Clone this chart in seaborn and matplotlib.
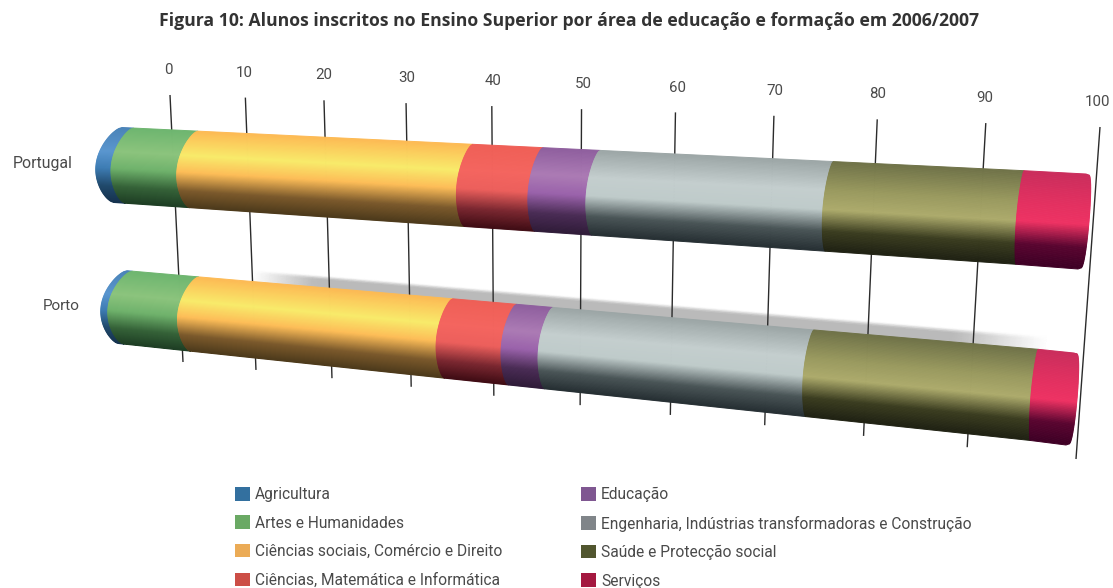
import numpy as np
import pandas as pd
import seaborn as sb
import matplotlib.pyplot as plt
from matplotlib import transforms as mtrans
from matplotlib.colors import to_rgb
from matplotlib.patches import Patch

categories = ['Agricultura', 'Artes e Humanidades',
              'Ciências sociais, Comércio e Direito',
              'Ciências, Matemática e Informática', 'Educação',
              'Engenharia, Indústrias transformadoras e Construção',
              'Saúde e Protecção social', 'Serviços']
portugal = [1.5, 8.2, 32.0, 7.5, 5.9, 22.5, 16.7, 5.7]
porto = [0.7, 8.6, 30.2, 7.0, 3.9, 26.0, 20.0, 3.6]
tick_values = [0, 10, 20, 30, 40, 50, 60, 70, 80, 90, 100]

W, H = 1113, 588
N = 72

legend_colors = ['#33709F', '#6AA964', '#EBAB56', '#CC4E46',
                 '#7F5791', '#808589', '#51562F', '#A41840']

# colours down the cylinder, top to bottom
stops = [0, 0.32, 0.54, 0.78, 1]
shades = [
    ['#4A83B8', '#5A96CF', '#3E7DB4', '#20496B', '#16324E'],
    ['#6DB56F', '#8CC47D', '#6FB26C', '#356238', '#1E3E24'],
    ['#FDB953', '#F8EB6B', '#FDBD58', '#7C5A2C', '#4D3A1B'],
    ['#EF5F56', '#F4655F', '#EC5F5C', '#7A2730', '#3F0C14'],
    ['#8E5E9E', '#AC7BB4', '#9A62AB', '#4A2C55', '#2F1B38'],
    ['#9BA5A5', '#C4CECE', '#BFCBCA', '#4A5557', '#262F33'],
    ['#6E7148', '#99995F', '#ADAB6C', '#3B3D20', '#1F2113'],
    ['#C92D5C', '#E23060', '#EE3263', '#5A0530', '#3E0025'],
]


def homography(corners):
    # corners: (0,0), (1,0), (0,1), (1,1) in image pixels
    src = [(0, 0), (1, 0), (0, 1), (1, 1)]
    A, b = [], []
    for (u, v), (x, y) in zip(src, corners):
        A.append([u, v, 1, 0, 0, 0, -u * x, -v * x])
        A.append([0, 0, 0, u, v, 1, -u * y, -v * y])
        b += [x, y]
    return np.append(np.linalg.solve(np.array(A, float), b), 1).reshape(3, 3)


class Perspective(mtrans.Transform):
    input_dims = 2
    output_dims = 2
    has_inverse = False

    def __init__(self, corners, strips=None):
        super().__init__()
        self.m = homography(corners)
        self.strips = strips

    def transform_non_affine(self, values):
        values = np.asarray(values, float)
        p = values[:, 0]
        s = values[:, 1]
        if self.strips:
            s = (s + 0.5) / self.strips
        w = self.m[2, 0] * p / 100 + self.m[2, 1] * s + 1
        x = (self.m[0, 0] * p / 100 + self.m[0, 1] * s + self.m[0, 2]) / w
        y = (self.m[1, 0] * p / 100 + self.m[1, 1] * s + self.m[1, 2]) / w
        if self.strips:
            # section lines bow to the left, less so towards the far end
            c = np.sin(np.pi * np.clip(s, 0, 1))
            bulge = 18.5 - 0.16 * p + 3.5 * np.clip(1 - p / 1.5, 0, 1)
            x = x - bulge * c ** 0.62
            # the far end is nearly flat with rounded corners
            end = p >= 99.99
            x = x + end * (bulge * c ** 0.62 + 7 * (c ** 0.22 - 1))
        return np.column_stack([x, y])


def strip_colors(i):
    rgb = np.array([to_rgb(c) for c in shades[i]])
    s = (np.arange(N) + 0.5) / N
    return [tuple(np.interp(t, stops, rgb[:, k]) for k in range(3)) for t in s]


sb.set_style('white')
plt.rcParams['font.family'] = ['Roboto', 'DejaVu Sans']
text_color = '#4a4a4a'

fig = plt.figure(figsize=(W / 100, H / 100), dpi=100)
ax = fig.add_axes([0, 0, 1, 1])

axis_tf = Perspective([(170, 95), (1100, 127), (183, 362), (1076, 459)]) + ax.transData
label_tf = Perspective([(168, 70), (1097, 102), (183, 362), (1076, 459)]) + ax.transData
row_corners = {
    'Portugal': [(122, 127.5), (1093, 174), (114, 202.5), (1085, 269)],
    'Porto': [(127, 270.7), (1081, 353), (119, 343.6), (1073, 445)],
}
row_values = {'Portugal': portugal, 'Porto': porto}

# shadow of the upper bar falling behind the lower one
porto_tf = Perspective(row_corners['Porto'], strips=N) + ax.transData
sp = np.linspace(16, 97, 80)
ss = np.linspace(-0.15, 0.05, 12)
along = np.interp(sp, [16, 23.5, 89, 97], [0, 1, 1, 0])
across = np.interp(ss, [-0.15, -0.105, 0.05], [0, 1, 1])
ax.pcolormesh(sp, ss * N - 0.5, np.outer(across, along) * 0.27, shading='gouraud',
              cmap='gray_r', vmin=0, vmax=1, transform=porto_tf, zorder=1)

for t in tick_values:
    ax.plot([t, t], [0, 1], color='#2b2b2b', lw=1.0, transform=axis_tf,
            zorder=2, solid_capstyle='butt')
    ax.text(t, 0, str(t), transform=label_tf, ha='center', va='center',
            fontsize=10.8, color=text_color)

for row in ['Portugal', 'Porto']:
    row_tf = Perspective(row_corners[row], strips=N) + ax.transData
    left = 0
    for i, value in enumerate(row_values[row]):
        strips = pd.DataFrame({'strip': np.arange(N), 'value': value})
        before = len(ax.patches)
        sb.barplot(data=strips, x='value', y='strip', hue='strip', orient='y',
                   palette=strip_colors(i), dodge=False, width=1, saturation=1,
                   errorbar=None, legend=False, left=left, ax=ax)
        for bar in ax.patches[before:]:
            bar.set_transform(row_tf)
            bar.set_clip_on(False)
            bar.set_edgecolor(bar.get_facecolor())
            bar.set_linewidth(0.7)
            bar.set_zorder(3)
        left += value

ax.set_xlim(0, W)
ax.set_ylim(H, 0)
ax.set_axis_off()

ax.text(569, 21.5, 'Figura 10: Alunos inscritos no Ensino Superior por área de '
        'educação e formação em 2006/2007', ha='center', va='center',
        fontsize=12.7, fontweight='bold', family=['Open Sans', 'DejaVu Sans'],
        color='#333333')
ax.text(73, 163.5, 'Portugal', ha='right', va='center', fontsize=11.4, color=text_color)
ax.text(80, 305.5, 'Porto', ha='right', va='center', fontsize=11, color=text_color)

handles = [Patch(facecolor=c, edgecolor='none', label=l)
           for c, l in zip(legend_colors, categories)]
legend_opts = dict(loc='upper left', bbox_transform=ax.transData, frameon=False,
                   fontsize=11.2, handlelength=0.96, handleheight=0.96,
                   handletextpad=0.34, labelspacing=0.86, borderpad=0,
                   borderaxespad=0, labelcolor=text_color)
first = ax.legend(handles=handles[:4], bbox_to_anchor=(235, 487), **legend_opts)
ax.add_artist(first)
ax.legend(handles=handles[4:], bbox_to_anchor=(581, 487), **legend_opts)

plt.savefig('out.png', dpi=100)
